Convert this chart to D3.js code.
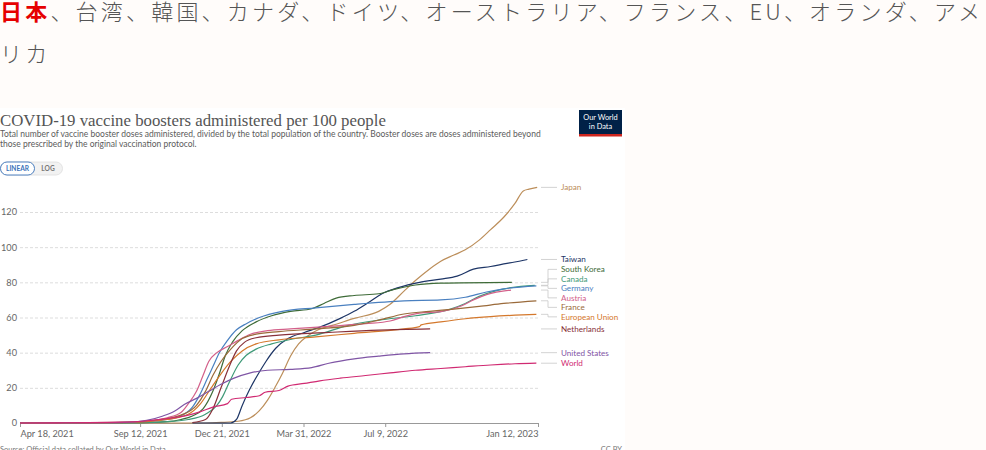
<!DOCTYPE html>
<html lang="ja">
<head>
<meta charset="UTF-8">
<title>COVID-19 vaccine boosters administered per 100 people</title>
<style>
  body { margin: 0; padding: 0; background: #fffcfa; width: 986px; height: 450px; overflow: hidden; position: relative; }
  #lead {
    position: absolute; left: 0; top: -10px; width: 1000px;
    font-family: "Noto Sans CJK JP", sans-serif; font-weight: 300;
    font-size: 22px; line-height: 41.5px; letter-spacing: 3.2px; color: #555;
  }
  #lead b { color: #e60000; font-weight: 700; }
  svg { position: absolute; left: 0; top: 0; }
  .tick text { font-family: Lato, sans-serif; font-size: 9.2px; fill: #666; }
</style>
</head>
<body>
<div id="lead"><b>日本</b>、台湾、韓国、カナダ、ドイツ、オーストラリア、フランス、EU、オランダ、アメリカ</div>
<svg width="986" height="450"></svg>
<script src="https://d3js.org/d3.v7.min.js"></script>
<script>
// ---- data (date, boosters per 100 people) ----
const japan = [["2021-04-18",0],["2021-12-01",0],["2021-12-20",0.3],["2022-01-10",1],["2022-01-25",3],["2022-02-05",7],["2022-02-15",13],["2022-02-25",21],["2022-03-05",28],["2022-03-15",38],["2022-03-25",45],["2022-04-05",49.5],["2022-04-20",53.5],["2022-05-05",55.5],["2022-06-01",59.5],["2022-07-01",63.5],["2022-07-15",67.5],["2022-08-01",75],["2022-08-15",81],["2022-09-01",87.5],["2022-09-15",92],["2022-10-01",95.5],["2022-10-15",98.5],["2022-11-01",104],["2022-11-15",110],["2022-12-01",117],["2022-12-15",125],["2022-12-25",132],["2023-01-01",133],["2023-01-11",134]];
const taiwan = [["2021-11-15",0],["2022-01-01",0],["2022-01-08",2],["2022-01-15",10],["2022-01-24",19],["2022-02-05",29],["2022-02-13",35],["2022-02-25",42.5],["2022-03-12",48],["2022-04-01",51.5],["2022-04-20",54.5],["2022-05-15",59.5],["2022-06-01",63.5],["2022-06-20",69],["2022-07-05",73.5],["2022-07-25",77],["2022-08-20",80],["2022-09-15",81.8],["2022-10-05",83.5],["2022-10-25",87.5],["2022-11-15",89],["2022-12-05",90.8],["2022-12-20",92],["2022-12-30",93]];
const southKorea = [["2021-04-18",0],["2021-09-01",0.2],["2021-10-15",0.8],["2021-11-01",2],["2021-11-15",4],["2021-11-28",8],["2021-12-10",18],["2021-12-18",28],["2021-12-25",38],["2022-01-03",46],["2022-01-15",52.5],["2022-02-01",57.5],["2022-02-20",61],["2022-03-15",63.5],["2022-04-10",65],["2022-04-25",68],["2022-05-10",71],["2022-06-01",72.5],["2022-07-01",73.5],["2022-07-20",76],["2022-08-15",78.5],["2022-09-15",79.5],["2022-12-11",80]];
const canada = [["2021-04-18",0],["2021-09-15",0.2],["2021-10-15",0.8],["2021-11-10",2],["2021-12-01",5],["2021-12-15",10],["2021-12-22",15],["2021-12-30",23],["2022-01-10",33],["2022-01-20",38.5],["2022-02-01",42],["2022-02-20",45],["2022-03-15",47.5],["2022-04-15",50],["2022-05-25",55.5],["2022-07-01",58.5],["2022-08-15",61],["2022-09-25",64.5],["2022-10-15",68],["2022-11-01",72],["2022-11-20",75],["2022-12-10",77],["2023-01-08",78.3]];
const germany = [["2021-04-18",0],["2021-08-15",0.2],["2021-09-15",0.7],["2021-10-15",2],["2021-11-01",4],["2021-11-15",9],["2021-11-24",16],["2021-12-03",25],["2021-12-10",32],["2021-12-18",40],["2021-12-28",47],["2022-01-08",53],["2022-01-20",56.5],["2022-02-05",60],["2022-03-05",63.5],["2022-04-15",65.5],["2022-06-01",67.5],["2022-08-01",69.5],["2022-09-15",70],["2022-10-15",71.5],["2022-11-10",74.5],["2022-12-01",76.3],["2023-01-10",78]];
const austria = [["2021-04-18",0],["2021-08-01",0.2],["2021-09-15",1],["2021-10-15",3],["2021-11-01",6],["2021-11-10",11],["2021-11-20",18],["2021-11-28",27],["2021-12-05",35],["2021-12-15",40],["2021-12-28",43.5],["2022-01-10",47],["2022-01-25",50.5],["2022-02-15",52.5],["2022-03-15",53.5],["2022-05-01",55],["2022-06-15",56.5],["2022-07-15",58],["2022-08-01",60.5],["2022-08-20",62.5],["2022-09-15",63.3],["2022-10-10",66.5],["2022-10-25",70],["2022-11-10",73],["2022-12-10",75.6]];
const france = [["2021-04-18",0],["2021-09-01",0.3],["2021-10-01",1.5],["2021-11-01",4.5],["2021-11-20",10],["2021-12-01",18],["2021-12-10",27],["2021-12-20",35],["2022-01-01",42],["2022-01-15",48],["2022-02-01",50.5],["2022-03-01",52],["2022-04-15",53.5],["2022-06-01",55.5],["2022-07-01",58.5],["2022-08-01",62],["2022-09-01",63.5],["2022-10-01",64.8],["2022-11-01",66.3],["2022-12-01",68],["2023-01-10",69.5]];
const europeanUnion = [["2021-04-18",0],["2021-08-15",0.2],["2021-09-15",0.7],["2021-10-15",2],["2021-11-10",5],["2021-11-25",11],["2021-12-08",20],["2021-12-20",28],["2022-01-01",35],["2022-01-15",41],["2022-02-01",45],["2022-03-01",47.3],["2022-04-15",49],["2022-06-01",51],["2022-08-01",53.5],["2022-08-20",54.8],["2022-08-22",55.8],["2022-09-15",57.5],["2022-10-15",59.3],["2022-11-15",60.5],["2022-12-15",61.3],["2023-01-10",61.8]];
const netherlands = [["2021-11-15",0.3],["2021-12-01",2],["2021-12-10",8],["2021-12-20",20],["2021-12-30",32],["2022-01-08",41],["2022-01-18",46],["2022-02-01",48.5],["2022-03-01",50],["2022-05-01",51.5],["2022-07-01",52.8],["2022-09-02",53.5]];
const unitedStates = [["2021-04-18",0],["2021-08-13",0.2],["2021-09-01",0.5],["2021-09-20",1.5],["2021-10-10",4],["2021-10-25",7],["2021-11-05",10.5],["2021-11-20",14],["2021-12-05",18],["2021-12-20",22],["2022-01-05",25.5],["2022-01-25",28.5],["2022-02-15",30],["2022-03-15",30.5],["2022-04-10",31.5],["2022-05-01",34],["2022-06-01",36.5],["2022-07-01",38],["2022-08-01",39.3],["2022-09-02",40]];
const world = [["2021-04-18",0],["2021-06-01",0.1],["2021-08-15",0.5],["2021-09-15",1],["2021-10-15",2.5],["2021-11-10",4.5],["2021-11-25",6.5],["2021-12-10",9],["2021-12-28",11],["2022-01-02",13.5],["2022-01-20",14.5],["2022-02-05",15.5],["2022-02-12",17.5],["2022-03-01",18.5],["2022-03-12",21],["2022-04-01",22.5],["2022-04-20",24],["2022-05-15",25.5],["2022-06-15",27],["2022-07-15",28.5],["2022-08-15",30],["2022-09-15",31],["2022-10-15",32],["2022-11-15",33],["2022-12-15",33.7],["2023-01-10",34]];

const seriesNames = ["Japan","Taiwan","South Korea","Canada","Germany","Austria","France","European Union","Netherlands","United States","World"];
const seriesData = [japan, taiwan, southKorea, canada, germany, austria, france, europeanUnion, netherlands, unitedStates, world];
const seriesColors = ["#bc8e5a","#1d3566","#3e6b38","#3f9a78","#4a80c0","#d3608a","#9a6a3a","#d4782c","#883039","#7f55a5","#d02a72"];

const yTicks = [0, 20, 40, 60, 80, 100, 120];
const xTicks = ["2021-04-18","2021-09-12","2021-12-21","2022-03-31","2022-07-09","2023-01-12"];

// ---- chart ----
const svg = d3.select("svg");
const parse = d3.timeParse("%Y-%m-%d");
const fmt = d3.timeFormat("%b %-d, %Y");

const x = d3.scaleTime().domain([parse("2021-04-18"), parse("2023-01-12")]).range([20, 538]);
const y = d3.scaleLinear().domain([0, 120]).range([423, 212]);

// white chart card
svg.append("rect").attr("x", 0).attr("y", 108).attr("width", 625).attr("height", 342).attr("fill", "#fff");

// header
svg.append("text").attr("x", 0).attr("y", 126)
  .attr("font-family", "'Liberation Serif', serif").attr("font-size", 16.8).attr("fill", "#555")
  .text("COVID-19 vaccine boosters administered per 100 people");
const sub = svg.append("text").attr("font-family", "Lato, sans-serif").attr("font-size", 8.5).attr("fill", "#5b5b5b");
sub.append("tspan").attr("x", 0).attr("y", 136.5)
  .text("Total number of vaccine booster doses administered, divided by the total population of the country. Booster doses are doses administered beyond");
sub.append("tspan").attr("x", 0).attr("y", 146.5)
  .text("those prescribed by the original vaccination protocol.");

// linear / log toggle
svg.append("rect").attr("x", 0.5).attr("y", 162).attr("width", 62).attr("height", 13).attr("rx", 6.5)
  .attr("fill", "#f2f2f2").attr("stroke", "#ddd").attr("stroke-width", 0.8);
svg.append("rect").attr("x", 0.5).attr("y", 162).attr("width", 34).attr("height", 13).attr("rx", 6.5)
  .attr("fill", "#fff").attr("stroke", "#3b73b9").attr("stroke-width", 0.9);
svg.append("text").attr("x", 17.5).attr("y", 170.9).attr("text-anchor", "middle")
  .attr("font-family", "Lato, sans-serif").attr("font-size", 6.6).attr("font-weight", 700).attr("fill", "#3b73b9").text("LINEAR");
svg.append("text").attr("x", 48).attr("y", 170.9).attr("text-anchor", "middle")
  .attr("font-family", "Lato, sans-serif").attr("font-size", 6.6).attr("font-weight", 700).attr("fill", "#777").text("LOG");

// OWID logo
svg.append("rect").attr("x", 579).attr("y", 110).attr("width", 43).attr("height", 26).attr("fill", "#002147");
svg.append("rect").attr("x", 579).attr("y", 134).attr("width", 43).attr("height", 2.5).attr("fill", "#ce261e");
svg.append("text").attr("x", 600.5).attr("y", 120).attr("text-anchor", "middle")
  .attr("font-family", "Lato, sans-serif").attr("font-size", 7.4).attr("fill", "#fff").text("Our World");
svg.append("text").attr("x", 600.5).attr("y", 129).attr("text-anchor", "middle")
  .attr("font-family", "Lato, sans-serif").attr("font-size", 7.4).attr("fill", "#fff").text("in Data");

// grid + y labels
const gy = svg.append("g").attr("transform", "translate(20,0)")
  .call(d3.axisLeft(y).tickValues(yTicks).tickSize(-518).tickPadding(3));
gy.select(".domain").remove();
gy.selectAll(".tick line").attr("stroke", "#ddd").attr("stroke-dasharray", "3,2")
  .filter(d => d === 0).remove();

// x axis
const gx = svg.append("g").attr("transform", "translate(0,423)")
  .call(d3.axisBottom(x).tickValues(xTicks.map(parse)).tickFormat(fmt).tickSize(4).tickPadding(3).tickSizeOuter(0));
gx.select(".domain").attr("stroke", "#999");
gx.selectAll(".tick line").attr("stroke", "#999");
gx.selectAll(".tick text")
  .attr("text-anchor", (d, i) => i === 0 ? "start" : i === xTicks.length - 1 ? "end" : "middle");

// lines
const line = d3.line().x(d => x(parse(d[0]))).y(d => y(d[1])).curve(d3.curveMonotoneX);
svg.append("g").selectAll("path").data(seriesData).join("path")
  .attr("d", line).attr("fill", "none")
  .attr("stroke", (d, i) => seriesColors[i]).attr("stroke-width", 1.2);

// end labels with simple collision avoidance
const gap = 9.5;
let labels = seriesNames.map((name, i) => {
  const last = seriesData[i][seriesData[i].length - 1];
  return { name, color: seriesColors[i], yEnd: y(last[1]), yPos: y(last[1]) };
}).sort((a, b) => a.yEnd - b.yEnd);
let clusters = labels.map(l => ({ items: [l] }));
let merged = true;
while (merged) {
  merged = false;
  clusters.forEach(c => {
    const mean = d3.mean(c.items, l => l.yEnd);
    c.top = mean - (c.items.length - 1) * gap / 2;
  });
  for (let i = 0; i < clusters.length - 1; i++) {
    const a = clusters[i], b = clusters[i + 1];
    if (a.top + (a.items.length - 1) * gap + gap > b.top) {
      clusters.splice(i, 2, { items: a.items.concat(b.items) });
      merged = true;
      break;
    }
  }
}
clusters.forEach(c => c.items.forEach((l, k) => l.yPos = c.top + k * gap));

const lg = svg.append("g");
lg.selectAll("path").data(labels).join("path")
  .attr("d", d => `M541,${d.yEnd}H548V${d.yPos}H557`)
  .attr("fill", "none").attr("stroke", "#c8c8c8").attr("stroke-width", 0.8);
lg.selectAll("text").data(labels).join("text")
  .attr("x", 561).attr("y", d => d.yPos).attr("dy", "0.35em")
  .attr("font-family", "Lato, sans-serif").attr("font-size", 8.1)
  .attr("fill", d => d.color).text(d => d.name);

// footer (cut off at the bottom edge)
svg.append("text").attr("x", 0).attr("y", 452).attr("font-family", "Lato, sans-serif")
  .attr("font-size", 7.5).attr("fill", "#777").text("Source: Official data collated by Our World in Data");
svg.append("text").attr("x", 622).attr("y", 452).attr("text-anchor", "end").attr("font-family", "Lato, sans-serif")
  .attr("font-size", 7.5).attr("fill", "#777").text("CC BY");
</script>
</body>
</html>
